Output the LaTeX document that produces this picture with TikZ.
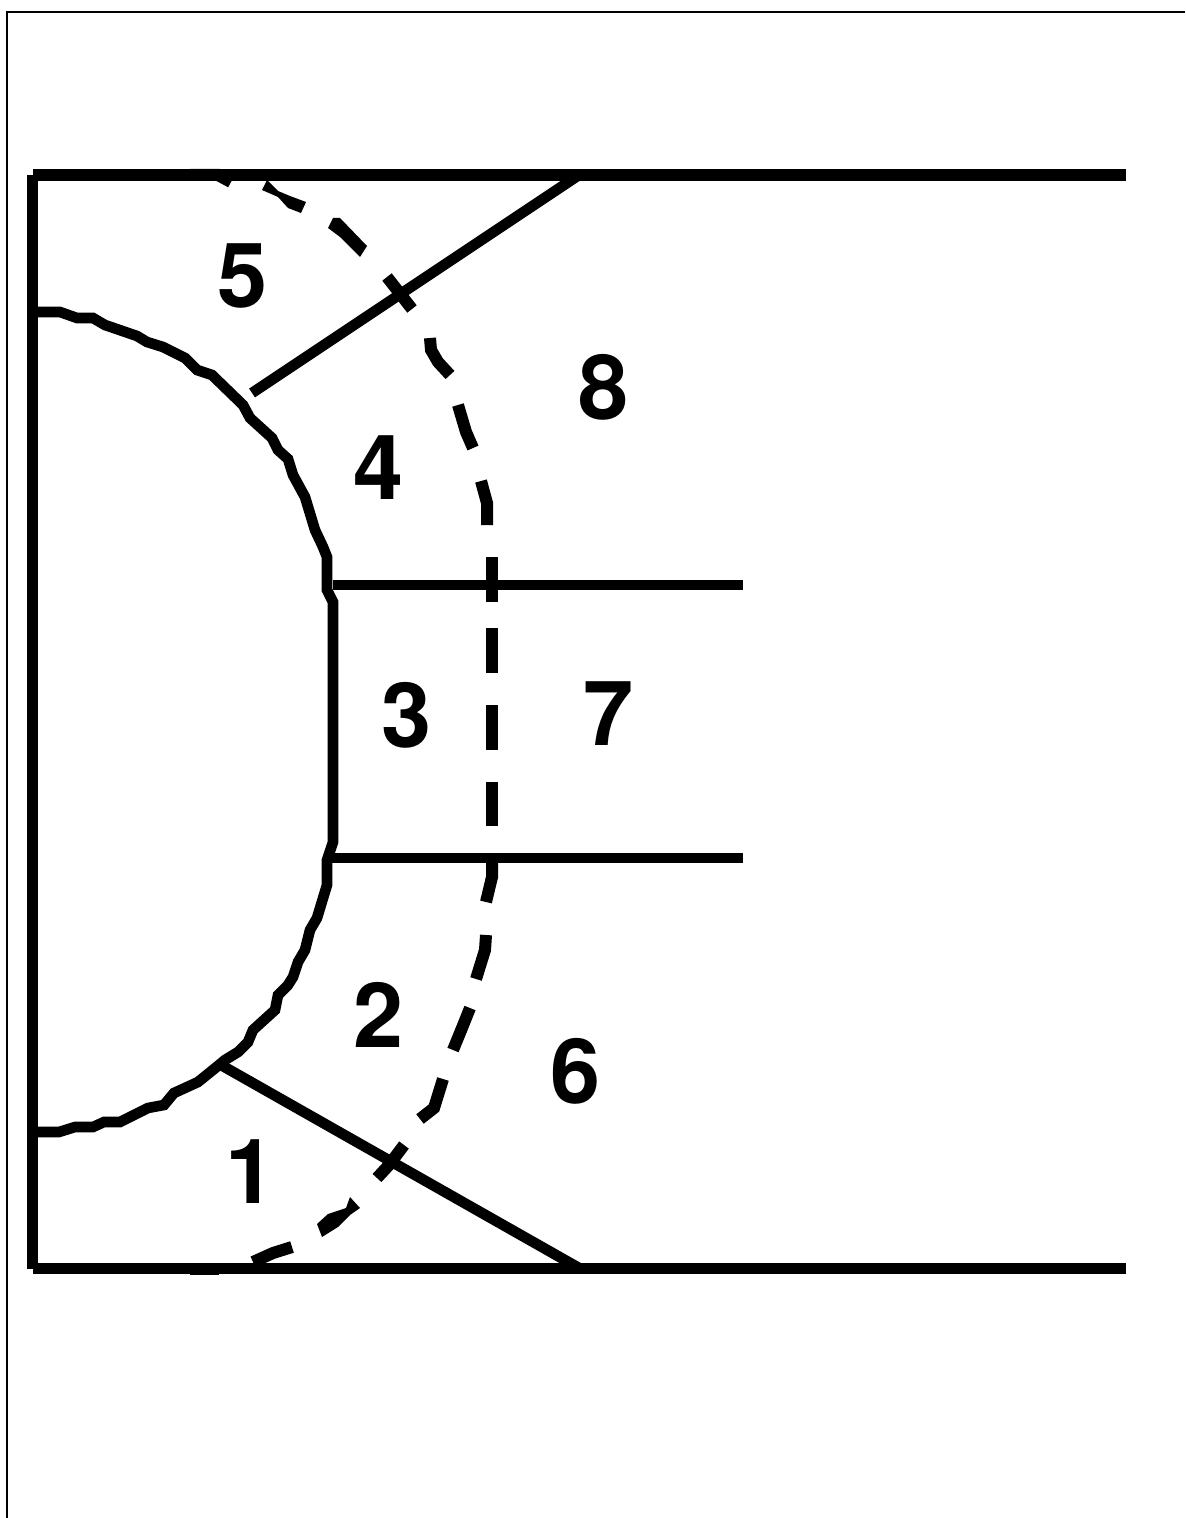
\documentclass[tikz,border=0pt]{standalone}
\usepackage{fontspec}
\setmainfont{TeX Gyre Heros}
\tikzset{
  wall/.style={black,line width=5.75pt},
  edge/.style={black,line width=5.3pt},
  front/.style={black,line width=6pt},
  frameline/.style={black,line width=1pt},
  region/.style={inner sep=0pt,font=\fontsize{45}{45}\selectfont\bfseries},
}
\begin{document}
\begin{tikzpicture}[x=0.5pt,y=-0.5pt]
\useasboundingbox (0,0) rectangle (1185,1518);

	\draw [frameline](7,1518)--(7,12)--(1185,12);

	\draw [wall](32.5,175)--(32.5,1268.5);
	\draw [wall](32.5,175)--(1126,175);
	\draw [wall](32.5,1268.5)--(1126,1268.5);

	\draw [edge](38,312)--(60,312)--(77,318)--(93,318)--(105,325)--(137,336)--(147,342)--(163,347)--(185,358)--(197,370)--(212,375)--(243,405)--(250,418)--(272,438)--(278,450)--(288,459)--(293,475)--(305,497)--(315,530)--(323,547)--(327,557)--(327,590)--(333,602)--(333,842)--(327,860)--(327,885)--(317,918)--(310,930)--(305,950)--(298,962)--(293,977)--(288,985)--(278,995)--(275,1010)--(253,1030)--(248,1042)--(238,1052)--(225,1060)--(219,1065)--(198,1082)--(174,1093)--(164,1105)--(148,1108)--(134,1115)--(120,1122)--(104,1122)--(93,1127)--(75,1127)--(59,1132)--(38,1132);

	\draw [edge](252,393)--(579,175);
	\draw [edge](221,1065)--(579,1268);
	\draw [edge](333,585)--(743,585);
	\draw [edge](327,858)--(743,858);

	\draw [front](190,175)--(218,175)--(231,182);
	\fill [black](267,180)--(262,190)--(278,197)--(288,208)--(301,213)--(306,202)--(290,196)--(278,191)--cycle;
	\fill [black](333,218)--(328,228)--(340,237)--(360,257)--(367,246)--(340,218)--cycle;
	\draw [front](387,277)--(412,309);
	\draw [front](430,338)--(431,350)--(438,362)--(450,375);
	\draw [front](458,405)--(466,432)--(473,448);
	\draw [front](481,481)--(487,503)--(487,525);
	\draw [front](492,557)--(492,602);
	\draw [front](492,628)--(492,673);
	\draw [front](492,705)--(492,750);
	\draw [front](492,782)--(492,826);
	\draw [front](492,863)--(492,877)--(486,902);
	\draw [front](486,935)--(485,950)--(476,979);
	\draw [front](470,1008)--(462,1028)--(453,1050);
	\draw [front](443,1079)--(434,1108)--(420,1119);
	\draw [front](404,1145)--(389,1165)--(377,1178);
	\fill [black](350,1197)--(346,1208)--(328,1214)--(317,1224)--(322,1237)--(338,1227)--(350,1215)--(360,1208)--cycle;
	\draw [front](292,1247)--(273,1253)--(253,1262);
	\draw [front](190,1268.5)--(219,1268.5);

	\node [region] (reg1) at (251,1172) {1};
	\node [region] (reg2) at (379,1015) {2};
	\node [region] (reg3) at (407,715) {3};
	\node [region] (reg4) at (379,468) {4};
	\node [region] (reg5) at (243,276) {5};
	\node [region] (reg6) at (576,1071) {6};
	\node [region] (reg7) at (609,714) {7};
	\node [region] (reg8) at (604,387) {8};
\end{tikzpicture}
\end{document}
